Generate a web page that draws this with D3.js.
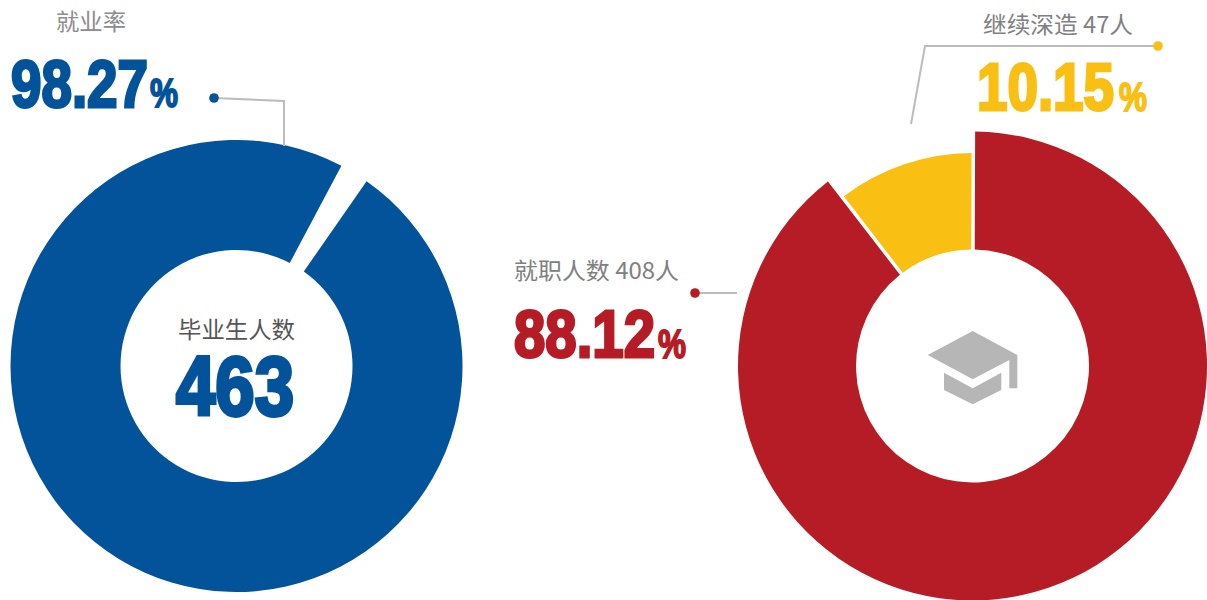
<!DOCTYPE html>
<html>
<head>
<meta charset="utf-8">
<script src="https://cdn.jsdelivr.net/npm/d3@7"></script>
<style>
  html, body { margin: 0; padding: 0; background: #fff; overflow: hidden; }
  .cn { font-family: "Noto Sans CJK SC", sans-serif; font-weight: 400; }
  .num { font-family: "Liberation Sans", sans-serif; font-weight: 700; stroke-linejoin: miter; }
</style>
</head>
<body>
<div id="chart"></div>
<script>
//Values
var employRateValues = [98.27, 1.73];
var destinationNames = ["就职人数", "继续深造"];
var destinationCounts = [408, 47];
var destinationValues = [88.12, 10.15];
var graduates = 463;

var blue = "#02539a", red = "#b61c25", yellow = "#fabf13", lineGrey = "#bcbcbc", iconGrey = "#b5b6b5";
var deg = Math.PI / 180;

var svg = d3.select("#chart").append("svg")
            .attr("width", 1207)
            .attr("height", 600);

//Left donut: the small slice stays empty
var leftPie = d3.pie().sort(null).startAngle(34.8 * deg).endAngle(394.8 * deg).padAngle(0.6 * deg);
var leftArc = d3.arc().innerRadius(116).outerRadius(226);

svg.append("g")
   .attr("transform", "translate(236.5,366)")
   .selectAll("path")
   .data(leftPie(employRateValues))
   .enter()
   .append("path")
   .attr("d", leftArc)
   .attr("fill", function(d, i) { return i == 0 ? blue : "none"; });

//Right donut: the yellow slice has a smaller outer radius
var rightPie = d3.pie().sort(null).startAngle(0.2 * deg).endAngle(360.2 * deg).padAngle(0.8 * deg);
var rightArc = d3.arc()
                 .innerRadius(116.5)
                 .outerRadius(function(d) { return d.index == 0 ? 234.5 : 213; });

svg.append("g")
   .attr("transform", "translate(972.5,366)")
   .selectAll("path")
   .data(rightPie(destinationValues))
   .enter()
   .append("path")
   .attr("d", rightArc)
   .attr("fill", function(d) { return d.index == 0 ? red : yellow; });

//Leader lines with their dots
function leader(points, color) {
  svg.append("path")
     .attr("d", d3.line()(points))
     .attr("fill", "none")
     .attr("stroke", lineGrey)
     .attr("stroke-width", 2);
  svg.append("circle")
     .attr("cx", points[0][0])
     .attr("cy", points[0][1])
     .attr("r", 4.8)
     .attr("fill", color);
}
leader([[214, 98], [284, 101], [284, 146]], blue);
leader([[695, 293], [737, 293]], red);
leader([[1158, 46], [925, 46], [911, 124]], yellow);

//Grey labels
function label(text, x, y, width, color) {
  svg.append("text")
     .attr("class", "cn")
     .attr("x", x)
     .attr("y", y)
     .attr("font-size", 23)
     .attr("fill", color)
     .attr("textLength", width)
     .attr("lengthAdjust", "spacingAndGlyphs")
     .text(text);
}
label("就业率", 56, 30, 70, "#8c8c8c");
label(destinationNames[0] + " " + destinationCounts[0] + "人", 514, 279, 165, "#808080");
label(destinationNames[1] + " " + destinationCounts[1] + "人", 983, 33, 150, "#808080");
label("毕业生人数", 178, 338, 117, "#555555");

//Big figures squeezed to the picture's width, stroked to get the heavy look
function figure(text, x, y, width, size, color) {
  var t = svg.append("text")
     .attr("class", "num")
     .attr("font-size", size)
     .attr("fill", color)
     .attr("stroke", color)
     .attr("stroke-width", size * 0.045)
     .text(text);
  var sx = width / t.node().getComputedTextLength();
  t.attr("transform", "translate(" + x + "," + y + ") scale(" + sx + ",1)");
}
var pct = d3.format(".2f");
figure(pct(employRateValues[0]), 11, 107, 137, 66, blue);
figure("%", 150, 107, 28, 40, blue);
figure(pct(destinationValues[0]), 514, 357, 141, 66, red);
figure("%", 658, 358, 28, 40, red);
figure(pct(destinationValues[1]), 977, 110, 137, 66, yellow);
figure("%", 1119, 111, 28, 40, yellow);
figure(graduates, 176, 415, 118, 84, blue);

//Graduation cap icon
var icon = svg.append("g").attr("fill", iconGrey);
icon.append("path").attr("d", "M972.7,331L1017.3,355V388.3H1009.3V360L972.7,379.3L927.7,355Z");
icon.append("path").attr("d", "M944,372.7L972.7,388.3L1001.3,372.7V390L972.7,404.3L944,390Z");
</script>
</body>
</html>
